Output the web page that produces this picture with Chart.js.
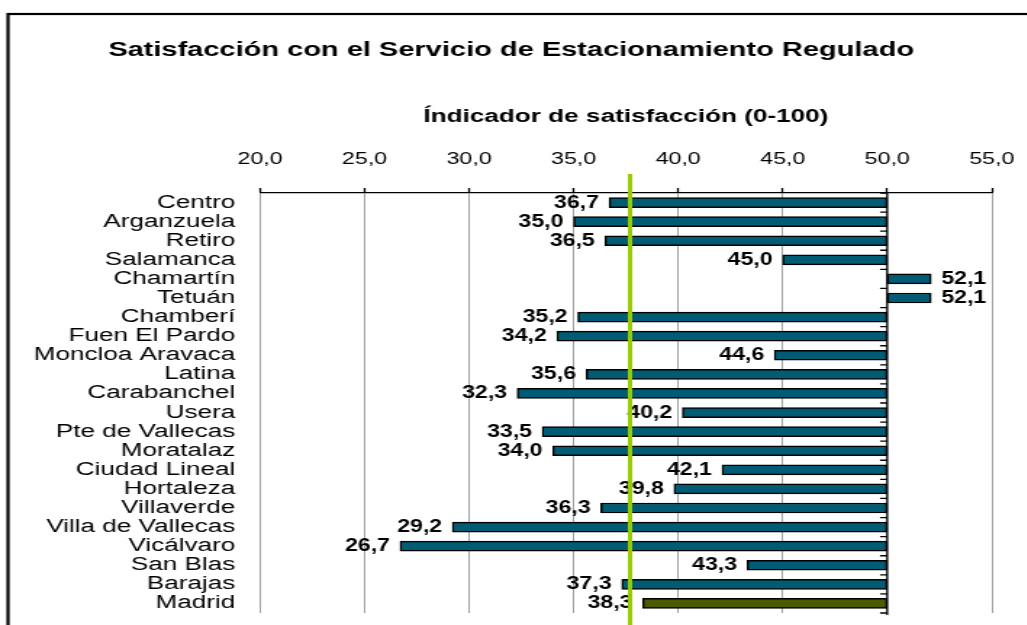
<!DOCTYPE html>
<html lang="es">
<head>
  <meta charset="UTF-8" />
  <title>Satisfacción con el Servicio de Estacionamiento Regulado</title>
  <script src="https://cdn.jsdelivr.net/npm/chart.js"></script>
  <style>
    html, body { margin: 0; padding: 0; background: #fff; overflow: hidden; }
    /* the original picture is stretched sideways, so the canvas is too */
    #chart { display: block; transform: scaleX(1.45); transform-origin: 0 0; }
  </style>
</head>
<body>
  <canvas id="chart" width="720" height="625"></canvas>

  <script>
    const distritos = [
      'Centro', 'Arganzuela', 'Retiro', 'Salamanca', 'Chamartín', 'Tetuán',
      'Chamberí', 'Fuen El Pardo', 'Moncloa Aravaca', 'Latina', 'Carabanchel',
      'Usera', 'Pte de Vallecas', 'Moratalaz', 'Ciudad Lineal', 'Hortaleza',
      'Villaverde', 'Villa de Vallecas', 'Vicálvaro', 'San Blas', 'Barajas', 'Madrid'
    ];
    const indicador = [
      36.7, 35.0, 36.5, 45.0, 52.1, 52.1,
      35.2, 34.2, 44.6, 35.6, 32.3,
      40.2, 33.5, 34.0, 42.1, 39.8,
      36.3, 29.2, 26.7, 43.3, 37.3, 38.3
    ];
    const base = 50;          // las barras salen de 50
    const promedio = 37.7;    // linea verde vertical
    const ejeMin = 20, ejeMax = 55, paso = 5;

    const FONT = "'Liberation Sans', Arial, sans-serif";
    const fmt = v => Number(v).toFixed(1).replace('.', ',');

    // marco exterior
    const marco = {
      id: 'marco',
      beforeDraw(chart) {
        const ctx = chart.ctx;
        ctx.save();
        ctx.strokeStyle = '#000';
        ctx.lineWidth = 2.2;
        ctx.strokeRect(5.5, 14, chart.width + 20, chart.height + 20);
        ctx.restore();
      }
    };

    // eje vertical en 50 con marcas, etiquetas de valor y linea media
    const extras = {
      id: 'extras',
      afterDatasetsDraw(chart) {
        const ctx = chart.ctx;
        const xs = chart.scales.x, ys = chart.scales.y;
        const area = chart.chartArea;
        const x50 = xs.getPixelForValue(base);

        ctx.save();
        ctx.strokeStyle = '#000';
        ctx.lineWidth = 1.3;
        ctx.beginPath();
        ctx.moveTo(x50, area.top);
        ctx.lineTo(x50, area.bottom + 2);
        for (let i = 0; i <= distritos.length; i++) {
          const y = ys.getPixelForValue(i - 0.5);
          ctx.moveTo(x50 - 5, y);
          ctx.lineTo(x50, y);
        }
        ctx.stroke();

        // etiquetas algo estrechas, como en el original
        const sx = 0.885;
        ctx.fillStyle = '#000';
        ctx.font = 'bold 18px ' + FONT;
        ctx.textBaseline = 'middle';
        chart.getDatasetMeta(0).data.forEach((bar, i) => {
          const v = indicador[i];
          const x = xs.getPixelForValue(v);
          ctx.save();
          if (v < base) {
            ctx.translate(x - 7, bar.y);
            ctx.textAlign = 'right';
          } else {
            ctx.translate(x + 7, bar.y);
            ctx.textAlign = 'left';
          }
          ctx.scale(sx, 1);
          ctx.fillText(fmt(v), 0, 0);
          ctx.restore();
        });
        ctx.restore();
      },
      afterDraw(chart) {
        const ctx = chart.ctx;
        const x = chart.scales.x.getPixelForValue(promedio);
        ctx.save();
        ctx.strokeStyle = '#99cc00';
        ctx.lineWidth = 3;
        ctx.beginPath();
        ctx.moveTo(x, chart.chartArea.top - 19);
        ctx.lineTo(x, chart.height);
        ctx.stroke();
        ctx.restore();
      }
    };

    const ctx = document.getElementById('chart').getContext('2d');
    new Chart(ctx, {
      type: 'bar',
      data: {
        labels: distritos,
        datasets: [{
          data: indicador.map(v => [v, base]),
          backgroundColor: distritos.map(d => d === 'Madrid' ? '#4b5a00' : '#005b74'),
          borderColor: '#000',
          borderWidth: 1.5,
          borderSkipped: false,
          barThickness: 10
        }]
      },
      options: {
        indexAxis: 'y',
        responsive: false,
        animation: false,
        layout: { padding: { left: 21, right: 36, top: 0, bottom: 12 } },
        plugins: {
          legend: { display: false },
          tooltip: { enabled: false },
          title: {
            display: true,
            text: 'Satisfacción con el Servicio de Estacionamiento Regulado',
            color: '#000',
            font: { family: FONT, size: 20, weight: 'bold' },
            padding: { top: 38, bottom: 44 }
          }
        },
        scales: {
          x: {
            position: 'top',
            min: ejeMin,
            max: ejeMax,
            afterFit: s => { s.height = 87; },
            ticks: {
              stepSize: paso,
              color: '#000',
              padding: 19,
              font: { family: FONT, size: 16 },
              callback: v => fmt(v)
            },
            grid: {
              color: '#a0a0a0',
              lineWidth: 1,
              drawTicks: true,
              tickLength: 5,
              tickColor: '#000',
              tickWidth: 1.3
            },
            border: { display: true, color: '#000', width: 1.3 },
            title: {
              display: true,
              text: 'Índicador de satisfacción (0-100)',
              color: '#000',
              font: { family: FONT, size: 18, weight: 'bold' },
              padding: { top: 0, bottom: 22 }
            }
          },
          y: {
            afterFit: s => { s.width = 158.3; },
            ticks: {
              color: '#000',
              padding: 0,
              autoSkip: false,
              font: { family: FONT, size: 18 }
            },
            grid: {
              display: true,
              drawOnChartArea: false,
              drawTicks: true,
              tickLength: 17,
              tickColor: 'rgba(0,0,0,0)'
            },
            border: { display: false }
          }
        }
      },
      plugins: [marco, extras]
    });
  </script>
</body>
</html>
